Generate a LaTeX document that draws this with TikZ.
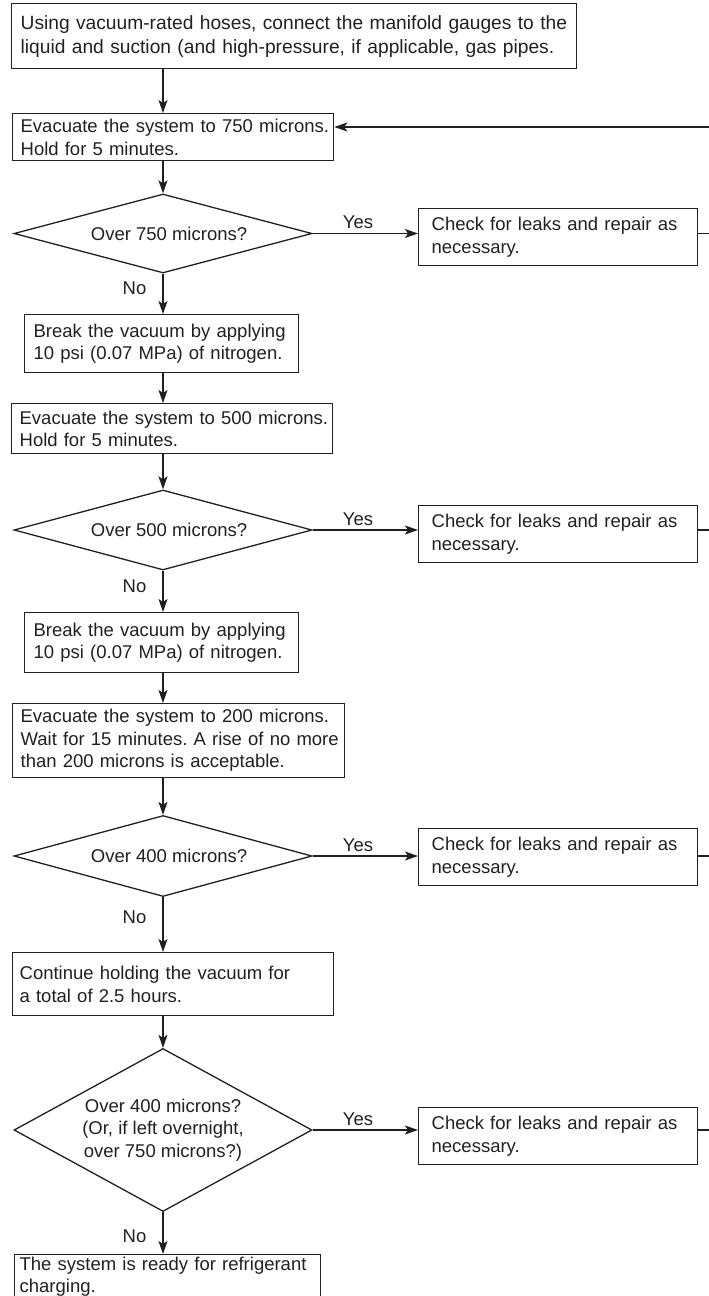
\documentclass[tikz,border=0pt]{standalone}
\usepackage{fontspec}
\setmainfont{Liberation Sans}
\usetikzlibrary{shapes.geometric,arrows.meta}
\definecolor{ink}{RGB}{35,31,32}
\frenchspacing
\begin{document}
\begin{tikzpicture}[x=1pt,y=-1pt,
  txt/.style={font=\fontsize{18.5}{22.5}\selectfont, text=ink},
  box/.style={draw=ink, line width=1.3pt, anchor=north west, inner ysep=0pt, align=left, txt},
  dia/.style={draw=ink, line width=1.3pt, shape=diamond, inner sep=0pt, minimum width=298pt},
  lbl/.style={txt, align=center, inner sep=0pt},
  dlbl/.style={lbl, xshift=6pt},
  arr/.style={draw=ink, line width=1.3pt, -{Stealth[length=13pt,width=9pt,inset=3pt]}},
  ln/.style={draw=ink, line width=1.3pt},
  chk/.style={box, inner xsep=13pt, text width=253pt, minimum width=279pt, minimum height=57pt},
  wide/.style={box, inner xsep=8pt, text width=305pt, minimum width=321pt},
  narrow/.style={box, inner xsep=9pt, text width=256pt, minimum width=274pt},
]
\useasboundingbox (0,0) rectangle (709,1296);
\clip (0,0) rectangle (709,1296);
\coordinate (cx) at (163,0);

% boxes
\node[box, inner xsep=9pt, text width=547pt, minimum width=565pt, minimum height=65pt,
      font=\fontsize{19.2}{24}\selectfont] (b1) at (11,3)
  {\mbox{Using vacuum-rated hoses, connect the manifold gauges to the}\\\mbox{liquid and suction (and high-pressure, if applicable, gas pipes.}};
\node[wide, minimum height=47pt] (b2) at (12,113)
  {\mbox{Evacuate the system to 750 microns.}\\\mbox{Hold for 5 minutes.}};
\node[dia, minimum height=79pt, label={[dlbl]center:{Over 750 microns?}}] (d1) at (163,233.5) {};
\node[chk] (c1) at (418,208) {\mbox{Check for leaks and repair as}\\\mbox{necessary.}};
\node[narrow, minimum height=58pt] (b3) at (24,314)
  {\mbox{Break the vacuum by applying}\\\mbox{10 psi (0.07 MPa) of nitrogen.}};
\node[wide, minimum height=50pt] (b4) at (11,403)
  {\mbox{Evacuate the system to 500 microns.}\\\mbox{Hold for 5 minutes.}};
\node[dia, minimum height=80pt, label={[dlbl]center:{Over 500 microns?}}] (d2) at (163,530) {};
\node[chk] (c2) at (418,505) {\mbox{Check for leaks and repair as}\\\mbox{necessary.}};
\node[narrow, minimum height=60pt] (b5) at (24,612)
  {\mbox{Break the vacuum by applying}\\\mbox{10 psi (0.07 MPa) of nitrogen.}};
\node[box, inner xsep=8pt, text width=316pt, minimum width=332pt, minimum height=74pt] (b6) at (12,703)
  {\mbox{Evacuate the system to 200 microns.}\\\mbox{Wait for 15 minutes. A rise of no more}\\\mbox{than 200 microns is acceptable.}};
\node[dia, minimum height=81pt, label={[dlbl]center:{Over 400 microns?}}] (d3) at (163,856) {};
\node[chk] (c3) at (418,828) {\mbox{Check for leaks and repair as}\\\mbox{necessary.}};
\node[box, inner xsep=7pt, text width=307pt, minimum width=321pt, minimum height=63pt] (b7) at (12,952)
  {\mbox{Continue holding the vacuum for}\\\mbox{a total of 2.5 hours.}};
\node[dia, minimum height=163pt, label={[lbl]center:{Over 400 microns?\\(Or, if left overnight,\\over 750 microns?)}}] (d4) at (163,1130) {};
\node[chk] (c4) at (418,1107) {\mbox{Check for leaks and repair as}\\\mbox{necessary.}};
\node[box, inner xsep=5pt, inner ysep=2pt, text width=296pt, minimum width=306pt] (b8) at (14,1254)
  {\mbox{The system is ready for refrigerant}\\\mbox{charging.}};

% right-edge coordinates of the return line
\coordinate (r0) at (709,127);
\coordinate (r1) at (709,233.5);
\coordinate (r2) at (709,530);
\coordinate (r3) at (709,856);
\coordinate (r4) at (709,1130);

% main flow
\draw[arr] (b1.south -| cx) -- (b2.north -| cx);
\draw[arr] (r0) -- (r0 -| b2.east);
\draw[arr] (b2.south -| cx) -- (d1.north);
\draw[arr] (d1.east) -- node[lbl, above=4pt, pos=0.43]{Yes} (d1.east -| c1.west);
\draw[ln] (c1.east |- r1) -- (r1);
\draw[arr] (d1.south) -- node[lbl, left=16pt, pos=0.37]{No} (b3.north -| cx);
\draw[arr] (b3.south -| cx) -- (b4.north -| cx);
\draw[arr] (b4.south -| cx) -- (d2.north);
\draw[arr] (d2.east) -- node[lbl, above=4pt, pos=0.43]{Yes} (d2.east -| c2.west);
\draw[ln] (c2.east |- r2) -- (r2);
\draw[arr] (d2.south) -- node[lbl, left=16pt, pos=0.37]{No} (b5.north -| cx);
\draw[arr] (b5.south -| cx) -- (b6.north -| cx);
\draw[arr] (b6.south -| cx) -- (d3.north);
\draw[arr] (d3.east) -- node[lbl, above=4pt, pos=0.43]{Yes} (d3.east -| c3.west);
\draw[ln] (c3.east |- r3) -- (r3);
\draw[arr] (d3.south) -- node[lbl, left=16pt, pos=0.37]{No} (b7.north -| cx);
\draw[arr] (b7.south -| cx) -- (d4.north);
\draw[arr] (d4.east) -- node[lbl, above=4pt, pos=0.43]{Yes} (d4.east -| c4.west);
\draw[ln] (c4.east |- r4) -- (r4);
\draw[arr] (d4.south) -- node[lbl, left=16pt, pos=0.58]{No} (b8.north -| cx);
\end{tikzpicture}
\end{document}
